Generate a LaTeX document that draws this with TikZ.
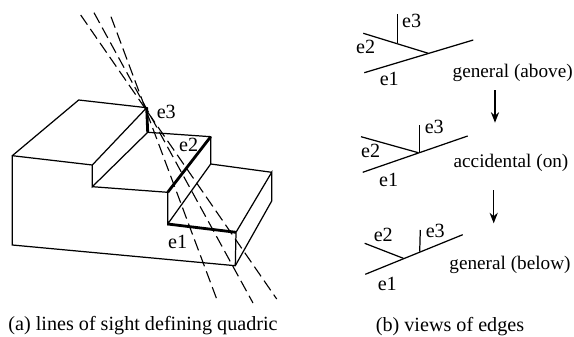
\documentclass[tikz,border=0pt]{standalone}
\usepackage{fontspec}
\setmainfont{Liberation Serif}
\usetikzlibrary{positioning, arrows.meta}
\tikzset{
  lbl/.style={inner sep=0pt, font=\fontsize{17.2}{19}\selectfont},
  viewlbl/.style={inner sep=0pt, font=\fontsize{16.4}{18}\selectfont},
  edgeline/.style={line width=1.05pt},
  heavyline/.style={line width=2.4pt},
  sightline/.style={line width=0.95pt, dash pattern=on 10pt off 4.5pt},
  viewarrow/.style={line width=1.05pt, -{Stealth[length=9pt,width=7pt]}}
}
\begin{document}
\begin{tikzpicture}[x=0.03cm, y=-0.03cm]
\useasboundingbox (0,0) rectangle (574,337);
% Block corners
\coordinate (backtop) at (78.7,100);
\coordinate (apex) at (146.7,107.7);
\coordinate (lefttop) at (12.3,155.7);
\coordinate (lefthigh) at (92.3,165);
\coordinate (leftlow) at (92.3,186.7);
\coordinate (riserfoot) at (147.7,132.3);
\coordinate (midfront) at (167.7,192.3);
\coordinate (midback) at (210.7,136.7);
\coordinate (midbacklow) at (210.7,164);
\coordinate (lowfront) at (167.7,224);
\coordinate (lowright) at (236,232.3);
\coordinate (farright) at (271.7,172.3);
\coordinate (farlow) at (271.7,201);
\coordinate (base) at (235.3,265.7);
\coordinate (baseleft) at (12.3,245);
% Block edges
\draw[edgeline] (lefttop) -- (backtop) -- (apex) -- (lefthigh) -- (lefttop) -- (baseleft) -- (base) -- (farlow) -- (farright) -- (lowright) -- (base);
\draw[edgeline] (lefthigh) -- (leftlow) -- (riserfoot) -- (midback) -- (midbacklow) -- (farright);
\draw[edgeline] (leftlow) -- (midfront) -- (lowfront) -- (midbacklow);
% Edges e1, e2, e3
\draw[heavyline] (apex) -- (riserfoot);
\draw[heavyline] (midfront) -- (midback);
\draw[heavyline] (lowfront) -- (lowright);
% Lines of sight
\coordinate (s1a) at (80.7,15);
\coordinate (s1b) at (276.7,299);
\coordinate (s2a) at (94,12.7);
\coordinate (s2b) at (253,303);
\coordinate (s3a) at (111,16.7);
\coordinate (s3b) at (216.7,299);
\draw[sightline] (s1a) -- (s1b);
\draw[sightline] (s2a) -- (s2b);
\draw[sightline] (s3a) -- (s3b);
% Labels on block
\node[lbl] (ae3) at (166.3,111.7) {e3};
\node[lbl] (ae2) at (188.7,144.7) {e2};
\node[lbl] (ae1) at (177.7,241.7) {e1};
\node[lbl] (capa) at (143,326) {(a) lines of sight defining quadric};
% View above
\coordinate (u1a) at (364.3,72.7);
\coordinate (u1b) at (473.3,40);
\coordinate (u2a) at (363.3,33.3);
\coordinate (u2b) at (428.3,53.3);
\coordinate (u3a) at (397.7,14);
\coordinate (u3b) at (397.7,42.7);
\draw[edgeline] (u1a) -- (u1b);
\draw[edgeline] (u2a) -- (u2b);
\draw[edgeline] (u3a) -- (u3b);
\node[lbl] (ue3) at (411.7,21) {e3};
\node[lbl] (ue2) at (365.7,47.3) {e2};
\node[lbl] (ue1) at (389.3,79.3) {e1};
\node[viewlbl] (above) at (512.7,72.7) {general (above)};
% View on
\coordinate (o1a) at (362.7,172.3);
\coordinate (o1b) at (467.7,136);
\coordinate (o2a) at (361,136.7);
\coordinate (o2b) at (418.3,152.7);
\coordinate (o3a) at (419.7,125);
\coordinate (o3b) at (419.7,152.7);
\draw[edgeline] (o1a) -- (o1b);
\draw[edgeline] (o2a) -- (o2b);
\draw[edgeline] (o3a) -- (o3b);
\node[lbl] (oe3) at (434.3,127.3) {e3};
\node[lbl] (oe2) at (370.7,151) {e2};
\node[lbl] (oe1) at (388.7,180) {e1};
\node[viewlbl] (on) at (511,163) {accidental (on)};
% View below
\coordinate (b1a) at (365.3,274.3);
\coordinate (b1b) at (462.7,234.7);
\coordinate (b2a) at (364.7,243.3);
\coordinate (b2b) at (403.3,258.3);
\coordinate (b3a) at (420.3,230);
\coordinate (b3b) at (419.7,251.7);
\draw[edgeline] (b1a) -- (b1b);
\draw[edgeline] (b2a) -- (b2b);
\draw[edgeline] (b3a) -- (b3b);
\node[lbl] (be3) at (435.3,230.7) {e3};
\node[lbl] (be2) at (383.3,235) {e2};
\node[lbl] (be1) at (387.3,284.3) {e1};
\node[viewlbl] (below) at (510,265) {general (below)};
% Arrows between views
\coordinate (ar1a) at (495,90);
\coordinate (ar1b) at (495,122.7);
\coordinate (ar2a) at (493.7,190);
\coordinate (ar2b) at (493.7,223.3);
\draw[viewarrow] (ar1a) -- (ar1b);
\draw[viewarrow] (ar2a) -- (ar2b);
\node[lbl] (capb) at (450,327) {(b) views of edges};
\end{tikzpicture}
\end{document}
